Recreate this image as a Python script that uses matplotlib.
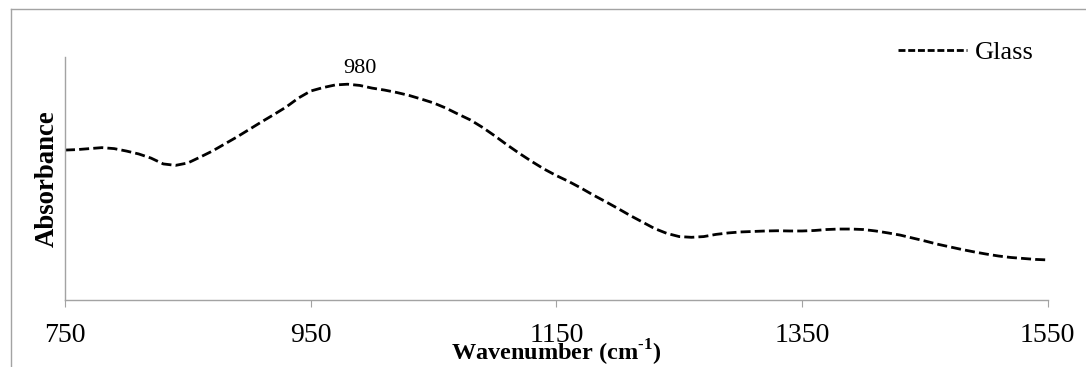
import matplotlib
matplotlib.use("Agg")
import matplotlib.pyplot as plt
from matplotlib.lines import Line2D

plt.rcParams['font.family'] = ['Liberation Serif', 'DejaVu Serif']
plt.rcParams['mathtext.fontset'] = 'custom'
plt.rcParams['mathtext.rm'] = 'Liberation Serif:bold'
plt.rcParams['mathtext.bf'] = 'Liberation Serif:bold'

# ---- data ----
wavenumber = list(range(750, 1551, 10))
absorbance = [
    0.617, 0.619, 0.623, 0.627, 0.623, 0.613, 0.601, 0.584, 0.560, 0.554,
    0.564, 0.588, 0.613, 0.642, 0.671, 0.702, 0.733, 0.763, 0.794, 0.831,
    0.860, 0.874, 0.885, 0.888, 0.883, 0.872, 0.864, 0.854, 0.842, 0.827,
    0.811, 0.790, 0.765, 0.741, 0.710, 0.675, 0.638, 0.603, 0.570, 0.539,
    0.512, 0.488, 0.461, 0.432, 0.405, 0.377, 0.348, 0.321, 0.294, 0.274,
    0.261, 0.258, 0.261, 0.270, 0.276, 0.280, 0.282, 0.284, 0.285, 0.284,
    0.284, 0.286, 0.290, 0.292, 0.292, 0.290, 0.284, 0.276, 0.267, 0.255,
    0.243, 0.230, 0.219, 0.208, 0.198, 0.189, 0.181, 0.175, 0.171, 0.167,
    0.165,
]
series_name = "Glass"
x_ticks = [750, 950, 1150, 1350, 1550]
peak_label = "980"
peak_pos = (990, 0.934)

W, H = 1086, 367
fig = plt.figure(figsize=(W / 100, H / 100), dpi=100)
ax = fig.add_axes([65 / W, 1 - 300 / H, (1047.7 - 65) / W, (300 - 57) / H])

gray = '#a3a3a3'
ax.plot(wavenumber, absorbance, color='black', linewidth=2.0,
        linestyle=(0, (3.6, 1.5)), label=series_name)

ax.set_xlim(750, 1550)
ax.set_ylim(0, 1)
ax.set_xticks(x_ticks)
ax.set_xticklabels([str(t) for t in x_ticks])
ax.set_yticks([])
for s in ['top', 'right']:
    ax.spines[s].set_visible(False)
for s in ['left', 'bottom']:
    ax.spines[s].set_color(gray)
    ax.spines[s].set_linewidth(1.0)
ax.tick_params(axis='x', direction='out', length=5, width=0.8, color=gray,
               labelsize=20, pad=11.5)

ax.text(peak_pos[0], peak_pos[1], peak_label, ha='center', va='baseline',
        fontsize=16, transform=ax.transData)

fig.text(556 / W, 1 - 361 / H, r'Wavenumber (cm$^{\text{-1}}$)', ha='center',
         va='baseline', fontsize=17.5, fontweight='bold')
fig.text(47 / W, 1 - 178.5 / H, 'Absorbance', rotation=90, ha='center',
         va='center', fontsize=19.3, fontweight='bold')

legend_handle = Line2D([], [], color='black', linewidth=2.0,
                       linestyle=(0, (2.5, 1.0)))
ax.legend([legend_handle], [series_name], loc='center left',
          bbox_to_anchor=(898 / W, 1 - 52.5 / H),
          bbox_transform=fig.transFigure, frameon=False, fontsize=19,
          handlelength=2.6, handletextpad=0.3, borderpad=0,
          borderaxespad=0)

# outer frame (left and top edges visible)
fig.add_artist(Line2D([10.5 / W, 10.5 / W], [0, 1 - 8.5 / H], color=gray,
                      linewidth=1.0, transform=fig.transFigure))
fig.add_artist(Line2D([10.5 / W, 1], [1 - 8.5 / H, 1 - 8.5 / H], color=gray,
                      linewidth=1.0, transform=fig.transFigure))

fig.savefig('out.png', dpi=100)
